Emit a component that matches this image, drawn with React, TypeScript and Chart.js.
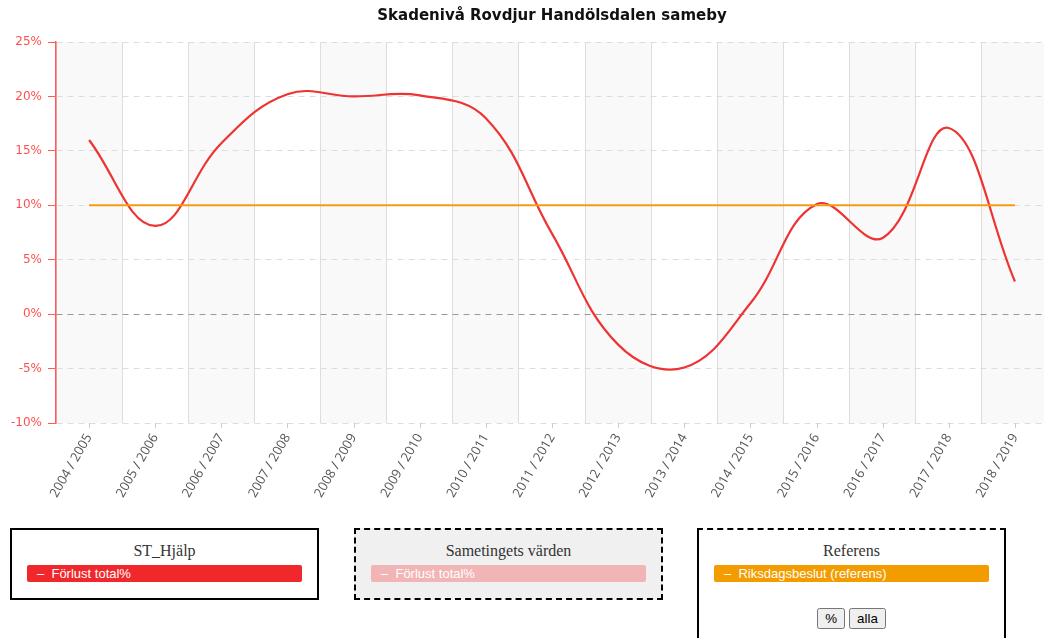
import React, { useEffect, useRef } from "react";
import { Chart, registerables } from "chart.js";

Chart.register(...registerables);

const categories = [
  "2004 / 2005",
  "2005 / 2006",
  "2006 / 2007",
  "2007 / 2008",
  "2008 / 2009",
  "2009 / 2010",
  "2010 / 2011",
  "2011 / 2012",
  "2012 / 2013",
  "2013 / 2014",
  "2014 / 2015",
  "2015 / 2016",
  "2016 / 2017",
  "2017 / 2018",
  "2018 / 2019",
];

const forlustTotal = [16.0, 8.1, 15.7, 20.2, 20.0, 20.1, 18.0, 7.4, -2.8, -4.9, 1.0, 10.1, 7.0, 17.1, 3.0];
const riksdagsbeslut = [10, 10, 10, 10, 10, 10, 10, 10, 10, 10, 10, 10, 10, 10, 10];

const yMin = -10;
const yMax = 25;
const yStep = 5;

const titleText = "Skadenivå Rovdjur Handölsdalen sameby";

const CANVAS_W = 1048;
const CANVAS_H = 515;

const bandsPlugin = {
  id: "bands",
  beforeDraw(chart: any) {
    const { ctx, chartArea, scales } = chart;
    const x = scales.x;
    const w = (chartArea.right - chartArea.left) / categories.length;
    ctx.save();
    ctx.fillStyle = "#f9f9f9";
    categories.forEach((_c, i) => {
      if (i % 2 === 0) {
        const cx = x.getPixelForValue(i);
        ctx.fillRect(cx - w / 2, chartArea.top, w, chartArea.bottom - chartArea.top);
      }
    });
    ctx.restore();
  },
  afterDraw(chart: any) {
    const { ctx, chartArea, scales } = chart;
    const x = scales.x;
    ctx.save();
    ctx.strokeStyle = "#cccccc";
    ctx.lineWidth = 1;
    categories.forEach((_c, i) => {
      const cx = Math.round(x.getPixelForValue(i)) + 0.5;
      ctx.beginPath();
      ctx.moveTo(cx, chartArea.bottom);
      ctx.lineTo(cx, chartArea.bottom + 5);
      ctx.stroke();
    });
    ctx.restore();
  },
};

function ChartCanvas() {
  const ref = useRef<HTMLCanvasElement | null>(null);
  useEffect(() => {
    if (!ref.current) return;
    const chart = new Chart(ref.current, {
      type: "line",
      data: {
        labels: categories,
        datasets: [
          {
            label: "Riksdagsbeslut (referens)",
            data: riksdagsbeslut,
            borderColor: "#f39c12",
            backgroundColor: "#f39c12",
            borderWidth: 2,
            pointRadius: 0,
            tension: 0,
            order: 0,
          },
          {
            label: "Förlust total%",
            data: forlustTotal,
            borderColor: "#ee3333",
            backgroundColor: "#ee3333",
            borderWidth: 2.2,
            pointRadius: 0,
            tension: 0.4,
            order: 1,
          },
        ],
      },
      options: {
        animation: false,
        responsive: false,
        layout: { padding: 0 },
        plugins: {
          legend: { display: false },
          tooltip: { enabled: false },
          title: {
            display: true,
            text: titleText,
            fullSize: false,
            color: "#111111",
            font: { family: "DejaVu Sans", size: 15, weight: "bold" },
            padding: { top: 7, bottom: 17 },
          },
        },
        scales: {
          x: {
            offset: true,
            afterFit: (scale: any) => {
              scale.height = CANVAS_H - 423;
            },
            grid: {
              offset: true,
              color: "#dddddd",
              lineWidth: 1,
              drawTicks: false,
            },
            border: { display: false },
            ticks: {
              minRotation: 60,
              maxRotation: 60,
              autoSkip: false,
              padding: 8,
              color: "#555555",
              font: { family: "Open Sans", size: 13 },
            },
          },
          y: {
            min: yMin,
            max: yMax,
            afterFit: (scale: any) => {
              scale.width = 56;
            },
            grid: {
              color: (c: any) => (c.tick && c.tick.value === 0 ? "#999999" : "#dddddd"),
              lineWidth: 1,
              tickLength: 8,
              tickColor: "#ff5a5a",
            },
            border: { display: true, color: "#ff5a5a", width: 1.5, dash: [6, 5] },
            ticks: {
              stepSize: yStep,
              padding: 6,
              color: "#ff5050",
              font: { family: "DejaVu Sans", size: 12 },
              callback: (v: any) => v + "%",
            },
          },
        },
      },
      plugins: [bandsPlugin],
    });
    return () => chart.destroy();
  }, []);
  return (
    <canvas
      ref={ref}
      width={CANVAS_W}
      height={CANVAS_H}
      style={{ position: "absolute", left: 0, top: 0, width: CANVAS_W, height: CANVAS_H }}
    />
  );
}

const boxTitle: React.CSSProperties = {
  position: "absolute",
  left: 0,
  right: 0,
  top: 11,
  textAlign: "center",
  fontSize: 16,
  color: "#333",
  lineHeight: "20px",
};

function LegendBar({ color, text }: { color: string; text: string }) {
  return (
    <div
      style={{
        position: "absolute",
        left: 15,
        top: 35,
        width: 275,
        height: 17,
        background: color,
        borderRadius: 2,
        color: "#fff",
        fontFamily: "'Liberation Sans', Arial, sans-serif",
        fontSize: 13,
        lineHeight: "17px",
        paddingLeft: 10,
        boxSizing: "border-box",
        whiteSpace: "pre",
      }}
    >
      {"–  " + text}
    </div>
  );
}

export default function App() {
  useEffect(() => {
    document.body.style.margin = "0";
  }, []);
  return (
    <div style={{ position: "relative", width: 1044, height: 638, overflow: "hidden", background: "#fff" }}>
      <ChartCanvas />
      <div
        style={{
          position: "absolute",
          left: 10,
          top: 528,
          width: 309,
          height: 72,
          border: "2px solid #000",
          boxSizing: "border-box",
          background: "#fff",
        }}
      >
        <div style={boxTitle}>ST_Hjälp</div>
        <LegendBar color="#f0282c" text="Förlust total%" />
      </div>
      <div
        style={{
          position: "absolute",
          left: 354,
          top: 528,
          width: 309,
          height: 72,
          border: "2px dashed #000",
          boxSizing: "border-box",
          background: "#f0f0f0",
        }}
      >
        <div style={boxTitle}>Sametingets värden</div>
        <LegendBar color="#f2b5b5" text="Förlust total%" />
      </div>
      <div
        style={{
          position: "absolute",
          left: 697,
          top: 528,
          width: 309,
          height: 130,
          borderTop: "2px dashed #000",
          borderLeft: "2px solid #000",
          borderRight: "2px solid #000",
          borderBottom: "2px solid #000",
          boxSizing: "border-box",
          background: "#fff",
        }}
      >
        <div style={boxTitle}>Referens</div>
        <LegendBar color="#f39c00" text="Riksdagsbeslut (referens)" />
        <div style={{ position: "absolute", left: 0, right: 0, top: 78, textAlign: "center" }}>
          <button>%</button> <button>alla</button>
        </div>
      </div>
    </div>
  );
}
